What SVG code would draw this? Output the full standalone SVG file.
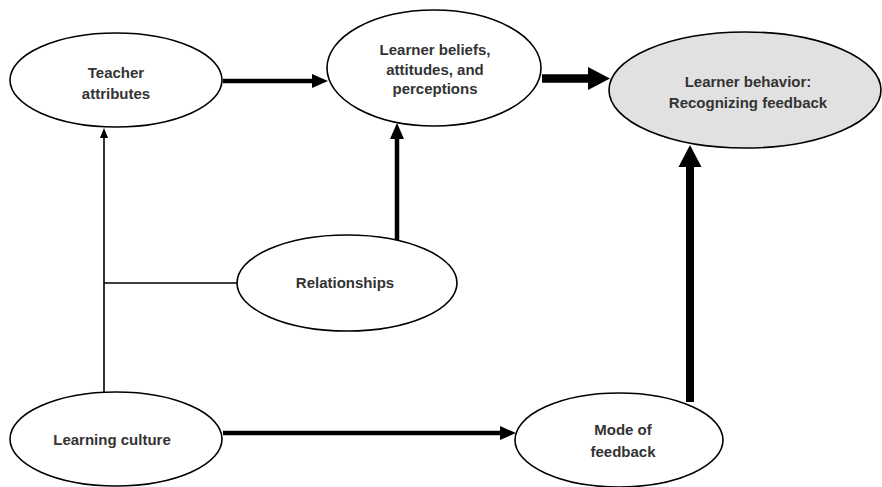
<svg xmlns="http://www.w3.org/2000/svg" width="882" height="487" viewBox="0 0 882 487">
<style>
.n ellipse{fill:#fff;stroke:#000;stroke-width:1.6}
.n text{font-family:"Liberation Sans",Arial,sans-serif;font-weight:bold;font-size:15px;fill:#333;text-anchor:middle}
.c line{stroke:#000;fill:none}
</style>
<defs>
<marker id="ah" viewBox="0 0 15 14" refX="0" refY="7" markerWidth="15" markerHeight="14" markerUnits="userSpaceOnUse" orient="auto" overflow="visible"><path d="M-1,0L15,7L-1,14z" fill="#000"/></marker>
<marker id="ahT" viewBox="0 0 21 23" refX="0" refY="11.5" markerWidth="21" markerHeight="23" markerUnits="userSpaceOnUse" orient="auto" overflow="visible"><path d="M-1,0L21,11.5L-1,23z" fill="#000"/></marker>
<marker id="ahS" viewBox="0 0 9 8" refX="0" refY="4" markerWidth="9" markerHeight="8" markerUnits="userSpaceOnUse" orient="auto" overflow="visible"><path d="M-1,0L9,4L-1,8z" fill="#000"/></marker>
</defs>
<g id="connectors" class="c">
<line x1="223" y1="81" x2="313" y2="81" stroke-width="4.5" marker-end="url(#ah)"/>
<line x1="542" y1="78.5" x2="589" y2="78.5" stroke-width="8.5" marker-end="url(#ahT)"/>
<line x1="690" y1="402" x2="690" y2="166" stroke-width="8" marker-end="url(#ahT)"/>
<line x1="397" y1="242" x2="397" y2="138" stroke-width="4.5" marker-end="url(#ah)"/>
<line x1="104" y1="393" x2="104" y2="137" stroke-width="1.6" marker-end="url(#ahS)"/>
<line x1="104" y1="283" x2="237" y2="283" stroke-width="1.6"/>
<line x1="223" y1="433" x2="501" y2="433" stroke-width="4.5" marker-end="url(#ah)"/>
</g>
<g id="teacher" class="n">
<ellipse cx="116" cy="80" rx="106" ry="47"/>
<text x="116" y="78">Teacher</text>
<text x="116" y="99">attributes</text>
</g>
<g id="beliefs" class="n">
<ellipse cx="434" cy="68" rx="107" ry="58"/>
<text x="435" y="55">Learner beliefs,</text>
<text x="435" y="75">attitudes, and</text>
<text x="435" y="94">perceptions</text>
</g>
<g id="behavior" class="n">
<ellipse cx="745" cy="90" rx="136" ry="58" style="fill:#e1e1e1"/>
<text x="748" y="87">Learner behavior:</text>
<text x="748" y="108">Recognizing feedback</text>
</g>
<g id="relationships" class="n">
<ellipse cx="347" cy="283" rx="110" ry="48"/>
<text x="345" y="288">Relationships</text>
</g>
<g id="culture" class="n">
<ellipse cx="116" cy="439" rx="106" ry="47"/>
<text x="112" y="445">Learning culture</text>
</g>
<g id="mode" class="n">
<ellipse cx="619" cy="440" rx="104" ry="47"/>
<text x="623" y="435">Mode of</text>
<text x="623" y="457">feedback</text>
</g>
</svg>
